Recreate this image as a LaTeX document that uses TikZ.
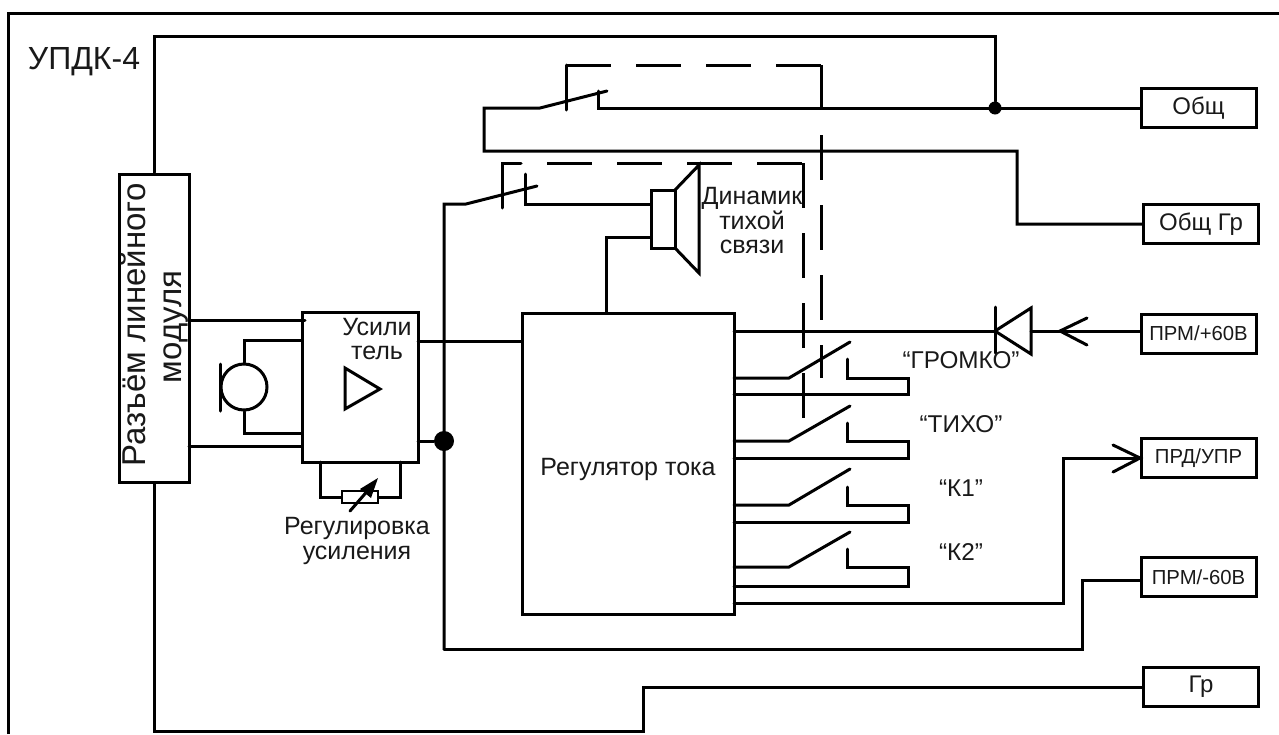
\documentclass[tikz,border=0pt]{standalone}
\usepackage{fontspec}
\setmainfont{Liberation Sans}
\tikzset{
  wire/.style={line width=3pt,line join=miter,line cap=round},
  dashwire/.style={wire,line cap=butt,dash pattern=on 45pt off 25pt},
  term/.style={draw,line width=3pt,minimum width=115pt,minimum height=39pt,inner sep=0pt,font=\fontsize{24}{24}\selectfont,text=black!90},
  termsm/.style={term,font=\fontsize{20.3}{24}\selectfont},
  boxed/.style={draw,line width=3pt,inner sep=0pt},
  lab/.style={inner sep=0pt,align=center,font=\fontsize{25}{24.5}\selectfont,text=black!90},
  dot/.style={circle,fill=black,inner sep=0pt,minimum size=20pt}
}
\begin{document}
\begin{tikzpicture}[x=1pt,y=-1pt]
\useasboundingbox (0,0) rectangle (1279,734);
% frame
\coordinate (fa) at (8,734); \coordinate (fb) at (8,13); \coordinate (fc) at (1279,13);
\draw[wire,line cap=butt] (fa) -- (fb) -- (fc);
% terminals
\node[term] (obsh) at (1198.5,108) {Общ};
\node[term] (obshgr) at (1201,224) {Общ Гр};
\node[termsm] (prmp) at (1198.5,333.5) {ПРМ/+60В};
\node[termsm] (prd) at (1198.5,458) {ПРД/УПР};
\node[termsm] (prmm) at (1198.5,577) {ПРМ/-60В};
\node[term] (gr) at (1201,687) {Гр};
% blocks
\node[boxed,minimum width=70pt,minimum height=308pt] (conn) at (154,328) {};
\node[boxed,minimum width=116pt,minimum height=150pt] (amp) at (360,387) {};
\node[boxed,minimum width=212pt,minimum height=301pt] (reg) at (628,463.5) {};
\node[boxed,minimum width=24pt,minimum height=58pt] (spk) at (663,219) {};
\node[boxed,circle,minimum size=46pt] (mic) at (244,387) {};
\node[draw,line width=2.2pt,minimum width=36pt,minimum height=12pt,inner sep=0pt] (res) at (360,497) {};
% junctions
\node[dot,minimum size=13pt] (j1) at (995,108) {};
\node[dot] (j2) at (444,441) {};
% named points
\coordinate (t1) at (154,36);
\coordinate (b1) at (154,731);
\coordinate (m1) at (643,731);
\coordinate (m2) at (643,687);
% outer lines
\draw[wire] (conn.north -| t1) -- (t1) -- (995,36) -- (j1);
\draw[wire] (conn.south -| b1) -- (b1) -- (m1) -- (m2) -- (gr.west);
% top switch
\draw[wire] (obsh.west) -- (598,108) -- (598,91);
\draw[wire] (607,91) -- (540,108) -- (484,108) -- (484,151) -- (1017,151) -- (1017,224) -- (obshgr.west);
% second switch
\draw[wire] (444,649) -- (444,204) -- (466,204) -- (537,186);
\draw[wire] (525,174) -- (525,204) -- (spk.west |- 0,204);
\draw[wire] (spk.west |- 0,237) -- (606,237) -- (606,313);
\draw[wire] (675,190) -- (699,165) -- (699,273) -- (675,248);
\draw[wire] (444,649) -- (1082,649) -- (1082,580) -- (1140,580);
% connector to amp
\draw[wire] (189,320) -- (305,320);
\draw[wire] (189,446) -- (302,446);
% mic
\draw[wire] (302,340) -- (244,340) -- (mic.north);
\draw[wire] (302,433) -- (244,433) -- (mic.south);
\draw[wire] (220,364) -- (220,411);
% amp contents
\draw[wire] (345,368) -- (380,389) -- (345,409) -- cycle;
\draw[wire] (418,341) -- (522,341);
\draw[wire] (418,441) -- (j2);
% variable resistor
\draw[wire] (320,462) -- (320,497) -- (res.west);
\draw[wire] (res.east) -- (400,497) -- (400,462);
\draw[wire] (350,511) -- (370,488);
\fill (378,478) -- (360,489) -- (371,498) -- cycle;
% dashed linkages
\draw[wire] (566,110) -- (566,65);
\draw[dashwire] (566,65) -- (821,65);
\draw[wire,line cap=butt] (821,65) -- (821,108);
\draw[dashwire] (821,135) -- (821,378);
\draw[wire] (502,208) -- (502,163) -- (521,163);
\draw[dashwire] (547,163) -- (803,163);
\draw[dashwire] (803,163) -- (803,420);
% diode
\draw[wire] (734,331) -- (995,331);
\draw[wire] (995,307) -- (995,353);
\draw[wire] (995,331) -- (1031,308) -- (1031,354) -- cycle;
\draw[wire] (1031,331) -- (1140,331);
\draw[wire] (1087,318) -- (1060,331) -- (1087,345);
% contact groups
\foreach \u/\t/\c/\b in {378/342/359/394, 441/406/423/458, 505/469/487/522, 567/532/549/586}{
  \draw[wire] (734,\u) -- (789,\u) -- (850,\t);
  \draw[wire] (847,\c) -- (847,\u) -- (908,\u) -- (908,\b) -- (734,\b);
}
% prd line
\draw[wire] (734,603) -- (1063,603) -- (1063,458) -- (prd.west);
\draw[wire] (1113,445) -- (1140,458) -- (1113,472);
% labels
\node[lab,font=\fontsize{32}{32}\selectfont] (t0) at (84,62) {УПДК-4};
\node[lab,rotate=90,font=\fontsize{33}{33}\selectfont] (tc1) at (133,325) {Разъём линейного};
\node[lab,rotate=90,font=\fontsize{33}{33}\selectfont] (tc2) at (176,327) {модуля};
\node[lab] (tu) at (377,339) {Усили\\тель};
\node[lab] (tr) at (357,541) {Регулировка\\усиления};
\node[lab] (tt) at (628,469) {Регулятор тока};
\node[lab] (td) at (752,221) {Динамик\\тихой\\связи};
\node[lab,font=\fontsize{24.3}{24}\selectfont] (s1) at (961,360) {“ГРОМКО”};
\node[lab,font=\fontsize{24.3}{24}\selectfont] (s2) at (961,424) {“ТИХО”};
\node[lab,font=\fontsize{24.3}{24}\selectfont] (s3) at (961,488) {“К1”};
\node[lab,font=\fontsize{24.3}{24}\selectfont] (s4) at (961,552) {“К2”};
\end{tikzpicture}
\end{document}
